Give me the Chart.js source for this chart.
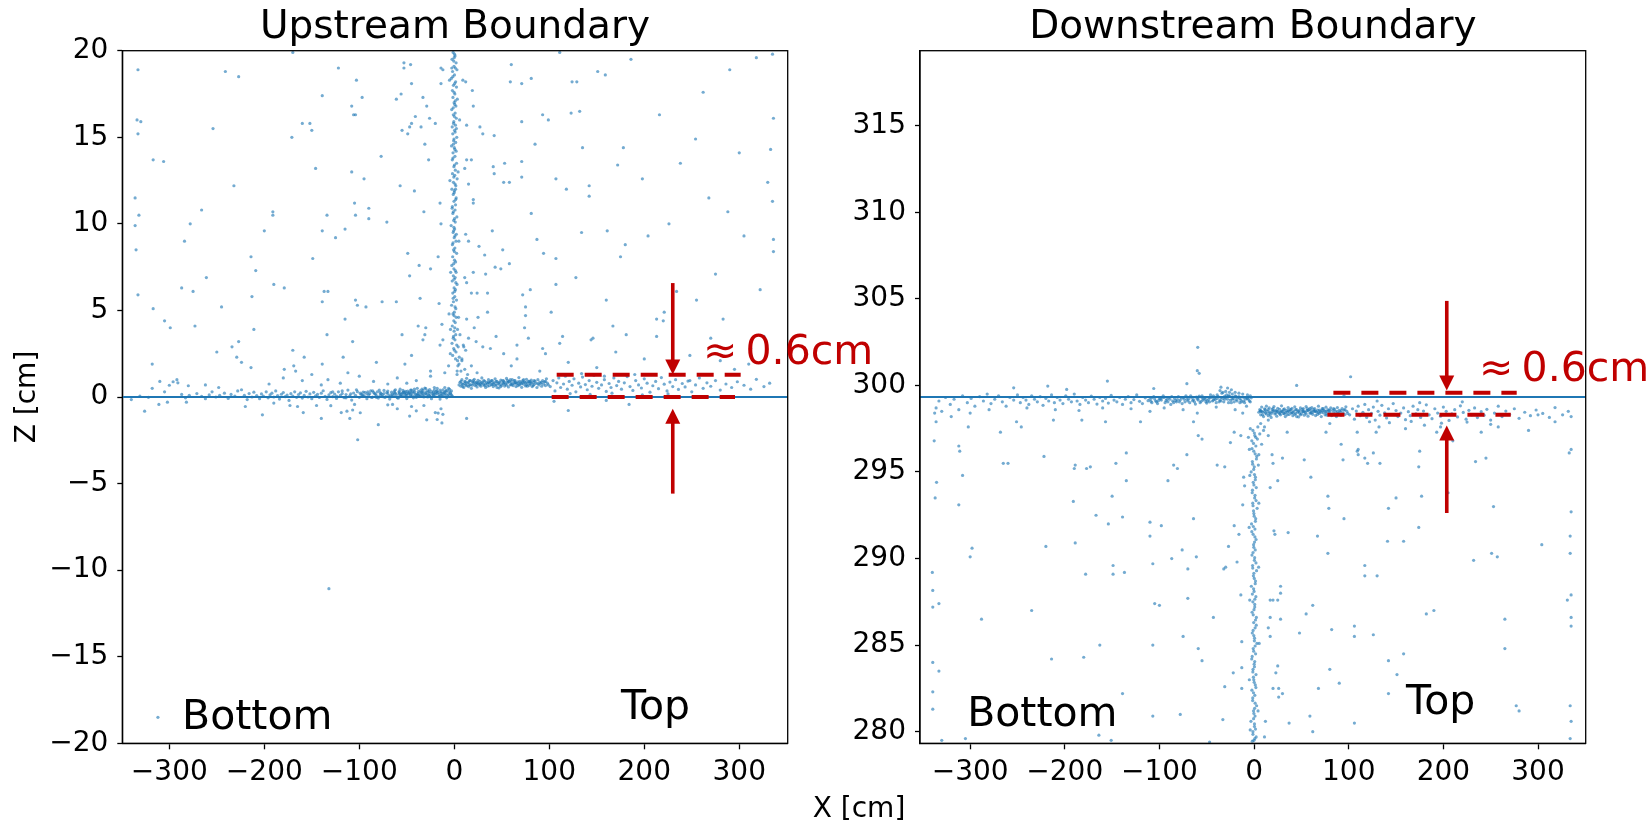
<!DOCTYPE html>
<html>
<head>
<meta charset="utf-8">
<script src="https://cdn.jsdelivr.net/npm/chart.js@4.4.0/dist/chart.umd.min.js"></script>
<style>
  body { margin: 0; background: #fff; width: 1652px; height: 823px; overflow: hidden; position: relative; }
  canvas { position: absolute; top: 0; }
  #upCanvas { left: 0; }
  #downCanvas { left: 830px; }
</style>
</head>
<body>
<canvas id="upCanvas" width="910" height="823"></canvas>
<canvas id="downCanvas" width="822" height="823"></canvas>
<script>
const RED = '#c00000';
const BLUE = '#1f77b4';

const xTicks = [-300, -200, -100, 0, 100, 200, 300];
const upZTicks = [-20, -15, -10, -5, 0, 5, 10, 15, 20];
const downZTicks = [280, 285, 290, 295, 300, 305, 310, 315];
const upBoundary = 0;
const downBoundary = 299.33;

// ---- Upstream boundary hits [x, z] ----
const upBandBottom = [
  [-340,-0.15],[-331,0.05],[-322,-0.02],[-318,0.5],[-310,0.9],[-305,0.3],[-300,0.68],[-296,0.88],[-292,1.0],[-291,0.82],
  [-287,0.15],[-283,-0.05],[-280,0.65],[-279,0.1],[-271,0.2],[-266,0.04],[-262,-0.1],[-258,0.12],[-255,0.3],[-251,0.0],
  [-247,0.1],[-242,0.22],[-238,-0.08],[-235,0.15],[-231,0.05],[-228,0.35],[-224,0.42],[-221,0.1],[-218,-0.15],[-216,0.2],
  [-213,0.0],[-211,0.28],[-208,0.08],[-205,-0.1],[-203,0.18],[-201,0.05],[-198,0.3],[-196,-0.05],[-194,0.12],[-192,0.22],
  [-190,0.0],[-188,0.35],[-186,0.08],[-184,-0.12],[-182,0.16],[-180,0.26],[-178,0.02],[-176,0.11],[-174,-0.2],[-172,0.19],
  [-170,0.05],[-168,0.3],[-166,-0.02],[-164,0.14],[-162,0.24],[-160,-0.06],[-158,0.09],[-156,0.33],[-154,0.0],[-152,0.18],
  [-150,-0.1],[-148,0.27],[-146,0.07],[-144,0.15],[-142,-0.03],[-140,0.22],[-138,0.36],[-136,0.04],[-134,-0.14],[-132,0.12],
  [-130,0.25],[-128,0.02],[-126,0.17],[-124,-0.08],[-122,0.3],[-120,0.09],[-118,0.2],[-116,-0.04],[-114,0.14],[-112,0.4],
  [-110,0.06],[-108,-0.18],[-106,0.23],[-104,0.1],[-102,0.31],[-100,-0.02],[-98,0.16],[-96,0.05],[-94,0.27],[-92,-0.1],
  [-90,0.12],[-88,0.35],[-86,0.0],[-84,0.2],[-82,0.08],[-80,-0.06],[-78,0.25],[-76,0.14],[-74,0.38],[-72,0.03],
  [-70,0.19],[-68,-0.12],[-66,0.28],[-64,0.1],[-62,0.22],[-60,-0.04],[-58,0.33],[-56,0.15],[-54,0.05],[-52,0.26],
  [-50,-0.09],[-48,0.18],[-46,0.4],[-44,0.07],[-42,0.24],[-40,-0.02],[-38,0.31],[-36,0.12],[-34,0.45],[-32,0.0],
  [-30,0.2],[-28,0.36],[-26,0.08],[-24,-0.1],[-22,0.28],[-20,0.15],[-18,0.5],[-16,0.03],[-14,0.22],[-12,0.42],
  [-10,0.1],[-8,-0.05],[-6,0.3],[-4,0.18],
  [-99,0.22],[-95,0.08],[-91,0.3],[-87,-0.03],[-83,0.17],[-79,0.4],[-75,0.02],[-71,0.26],[-67,0.11],[-63,0.36],
  [-59,-0.07],[-55,0.21],[-51,0.13],[-47,0.29],[-43,-0.05],[-39,0.17],[-35,0.26],[-31,0.52],[-27,0.1],[-23,0.19],
  [-19,0.33],[-15,-0.12],[-11,0.25],[-7,0.08],[-5,0.44],[-3,0.12],[-97,0.12],[-89,0.2],[-81,0.3],[-73,-0.03],
  [-65,0.17],[-57,0.08],[-49,0.34],[-41,0.14],[-33,0.22],[-25,0.02],[-17,0.27],[-9,0.36],[-13,0.06],[-21,0.4],
  [-29,0.15],[-37,0.04],[-45,0.22],[-53,0.3],[-61,0.13],[-69,0.05],[-77,0.2],[-85,0.27],
  [-58,0.18],[-54,0.25],[-50,0.07],[-46,0.15],[-42,0.33],[-38,0.2],[-34,0.1],[-30,0.28],[-26,0.43],[-22,0.06],
  [-18,0.21],[-14,0.3],[-10,0.55],[-6,0.14],[-4,0.25],[-2,0.05],[-8,0.38],[-12,0.18],[-16,0.12],[-20,0.24],
  [-24,0.32],[-28,0.0],[-32,0.12],[-36,0.35],[-40,0.08],[-44,0.3],[-48,0.24],[-52,0.16],[-56,0.04],
  [-128,0.3],[-124,0.05],[-118,0.35],[-114,-0.05],[-109,0.18],[-103,0.42],[-96,0.28],[-92,0.18],[-86,0.36],[-82,-0.02],
  [-78,0.1],[-74,0.2],[-70,0.34],[-66,0.02],[-62,0.42],[-58,0.26],[-54,0.38],[-50,0.2],[-46,0.06],[-42,0.45],
  [-38,0.1],[-34,0.28],[-30,0.48],[-26,0.22],[-22,0.14],[-18,0.35],[-14,0.1],[-10,0.28],[-6,0.5],[-3,0.35],
  [-9,0.2],[-15,0.4],[-21,0.55],[-27,0.3],[-33,0.38],[-39,0.5],[-45,0.4],[-51,0.32],[-57,0.45],[-63,0.25],
  [-262,0.7],[-248,0.55],[-195,0.75],[-160,0.95],[-120,0.8],[-85,0.9],[-60,1.1],[-40,0.95],[-25,1.2],[-10,1.4],
  [-6,1.8],[-180,1.1],[-140,0.7],[-100,1.2],[-70,0.75],[-50,0.8]
];
const upBandTop = [
  [6,0.85],[7,0.62],[8,1.0],[9,0.74],[10,0.55],[11,0.9],[12,0.7],[13,1.08],[14,0.8],[15,0.6],
  [16,0.95],[17,0.72],[18,0.5],[19,0.88],[20,0.78],[21,1.02],[22,0.66],[23,0.84],[24,0.58],[25,0.96],
  [26,0.74],[27,0.9],[28,0.62],[29,1.1],[30,0.8],[31,0.7],[32,0.92],[33,0.55],[34,0.85],[35,0.76],
  [36,1.0],[37,0.65],[38,0.88],[39,0.72],[40,0.95],[41,0.6],[42,0.82],[43,1.05],[44,0.7],[45,0.9],
  [46,0.77],[47,0.52],[48,0.86],[49,0.98],[50,0.68],[51,0.8],[52,0.93],[53,0.63],[54,0.75],[55,1.07],
  [56,0.83],[57,0.58],[58,0.9],[59,0.72],[60,0.86],[61,1.0],[62,0.66],[63,0.8],[64,0.94],[65,0.6],
  [66,0.77],[67,0.88],[68,1.12],[69,0.7],[70,0.82],[71,0.56],[72,0.95],[73,0.74],[74,0.86],[75,0.64],
  [76,1.02],[77,0.8],[78,0.9],[79,0.68],[80,0.76],[81,0.98],[82,0.6],[83,0.85],[84,0.72],[85,0.92],
  [86,0.8],[87,0.55],[88,1.0],[89,0.7],[90,0.86],[91,0.78],[92,0.62],[93,0.95],[94,0.74],[95,0.88],
  [96,0.66],[97,1.05],[98,0.8],[99,0.7],
  [8,0.75],[12,0.88],[16,0.68],[20,0.95],[24,0.82],[28,0.76],[32,0.66],[36,0.84],[40,0.72],[44,0.9],
  [48,0.7],[52,0.78],[56,0.96],[60,0.7],[64,0.82],[68,0.74],[72,0.86],[76,0.7],[80,0.88],[84,0.95],
  [88,0.78],[92,0.85],[96,0.9],
  [5,0.7],[7,0.9],[9,0.6],[11,0.78],[13,0.65],[15,0.85],[17,0.95],[19,0.68],[21,0.85],[23,0.72],
  [25,0.8],[27,0.7],[29,0.85],[31,0.95],[33,0.75],[35,0.62],[37,0.82],[39,0.95],[41,0.8],[43,0.68],
  [45,0.55],[47,0.82],[49,0.6],[51,0.95],[53,0.85],[55,0.68],[57,0.88],[59,1.0],[61,0.75],[63,0.95],
  [65,0.82],[67,0.65],[69,0.9],[71,0.78],[73,1.0],[75,0.85],[77,0.62],[79,0.9],[81,0.8],[83,0.66],
  [101,0.6],[104,0.95],[106,0.35],[108,0.82],[110,1.1],[112,0.55],[115,0.75],[117,1.2],[119,0.45],[121,0.9],
  [124,0.68],[126,1.05],[128,0.3],[131,0.8],[133,0.58],[135,1.15],[138,0.72],[140,0.42],[142,0.95],[145,0.62],
  [147,1.25],[150,0.85],[152,0.5],[155,0.7],[158,1.0],[160,0.32],[163,0.78],[165,0.55],[168,1.1],[171,0.66],
  [173,0.9],[176,0.45],[179,0.82],[182,1.18],[185,0.6],[188,0.38],[191,0.95],[194,0.7],[197,0.52],[200,1.05],
  [203,0.8],[206,0.28],[209,0.65],[212,0.9],[215,0.48],[218,1.12],[221,0.74],[224,0.35],[227,0.86],[230,0.6],
  [233,1.0],[236,0.44],[240,0.78],[243,0.58],[246,0.92],[250,0.3],[254,0.7],[258,1.1],[262,0.5],[266,0.82],
  [270,0.62],[275,0.95],[280,0.4],[286,0.75],[292,0.55],[298,0.88],[305,0.68],[312,0.45],[318,1.02],[326,0.6],
  [332,0.8],[122,0.2],[143,0.15],[166,0.22],[198,0.12],[225,0.18],[248,0.95],[190,1.3],[134,1.35],[158,1.2],
  [3,1.5],[5,1.9],[8,2.2],[11,1.6],[14,1.3],[18,1.8],[24,1.4]
];
const upColumn = [
  [-1.2,19.9],[0.8,19.7],[-2.4,19.5],[1.9,19.3],[-0.3,19.1],[2.8,18.9],[-1.8,18.8],[0.2,18.6],[-3.1,18.4],[1.4,18.2],
  [-0.9,18.0],[2.3,17.9],[-2.0,17.7],[0.6,17.5],[-1.4,17.3],[3.2,17.2],[-0.2,17.0],[1.7,16.8],[-2.7,16.6],[0.9,16.4],
  [-1.0,16.3],[2.1,16.1],[-0.5,15.9],[1.2,15.7],[-2.2,15.6],[0.3,15.4],[-1.6,15.2],[2.6,15.0],[-0.7,14.8],[1.5,14.7],
  [-2.9,14.5],[0.0,14.4],[1.9,14.2],[-1.3,14.1],[0.7,13.9],[-2.1,13.7],[2.4,13.5],[-0.4,13.3],[1.1,13.1],[-1.9,12.9],
  [0.5,12.8],[3.0,12.6],[-0.9,12.4],[1.6,12.2],[-2.5,12.0],[0.1,11.9],[-1.1,11.7],[2.0,11.5],[-0.3,11.3],[1.3,11.1],
  [-2.3,10.9],[0.8,10.8],[-1.5,10.6],[2.7,10.4],[-0.6,10.2],[1.0,10.1],[-3.3,9.9],[0.4,9.7],[-1.2,9.5],[2.2,9.4],
  [-0.1,9.2],[1.8,9.0],[-2.0,8.8],[0.6,8.6],[-0.8,8.5],[2.5,8.3],[-1.7,8.1],[0.2,7.9],[1.4,7.8],[-2.6,7.6],
  [-0.4,7.4],[1.9,7.2],[-1.0,7.0],[0.9,6.9],[-2.2,6.7],[2.9,6.5],[-0.2,6.3],[1.2,6.2],[-1.6,6.0],[0.5,5.8],
  [2.3,5.6],[-0.9,5.5],[-2.8,5.3],[1.6,5.1],[0.0,4.9],[-1.4,4.8],[2.0,4.6],[-0.5,4.4],[1.0,4.3],[-2.1,4.1],
  [3.4,3.9],[-0.2,3.8],[1.5,3.6],[-1.1,3.4],[0.7,3.3],[-2.4,3.1],[2.6,3.0],[4.1,2.9],[-0.6,2.8],[1.8,2.6],
  [0.3,19.8],[-0.6,19.4],[1.1,19.0],[-1.5,18.5],[0.4,18.1],[-0.2,17.6],[1.0,17.1],[-1.1,16.7],[0.1,16.2],[-0.8,15.8],
  [0.9,15.3],[-0.3,14.9],[0.6,14.3],[-1.4,13.8],[0.2,13.4],[-0.5,12.7],[0.8,12.3],[-0.1,11.8],[1.5,11.4],[-1.0,10.7],
  [0.3,10.3],[-0.4,9.8],[0.7,9.3],[-1.3,8.9],[0.1,8.4],[-0.6,7.7],[1.1,7.3],[-0.2,6.8],[0.4,6.1],[-1.2,5.7],
  [0.8,5.2],[-0.3,4.7],[0.5,4.0],[-0.8,3.5],[0.2,2.7],[-1.7,2.4],[1.3,2.2],[3.5,2.1],[-0.1,19.6],[0.5,16.9],
  [-0.9,14.6],[1.3,12.0],[-0.7,9.6],[1.6,6.6],[-2.6,19.0],[2.2,15.5],[-2.0,11.0],
  [4.5,4.6],[6,3.6],[5.2,2.3],[8,2.1],[3.8,1.8],[7,1.5],[2.9,1.3],[9.5,3.0],[-4.2,2.5],[-5.5,4.8],
  [-3.8,7.2],[4.8,9.0],[-4.6,12.5],[5.6,16.0],[-5,18.3],[4.0,13.0],[-4,3.9]
];
const upScatter = [
  [-333,18.9],[-334,16.0],[-330,15.9],[-333,15.2],[-336,11.5],[-336,9.9],[-332,10.5],[-335,8.5],[-333,5.9],[-317,13.7],
  [-306,13.6],[-317,5.1],[-305,4.4],[-299,4.0],[-284,9.0],[-278,10.0],[-275,6.1],[-273,4.1],[-287,6.3],[-266,10.8],
  [-261,6.9],[-254,15.5],[-241,18.8],[-227,18.5],[-232,12.2],[-245,5.2],[-214,8.1],[-209,7.3],[-213,5.8],[-211,3.9],
  [-214,1.7],[-234,2.9],[-227,3.2],[-229,2.3],[-224,2.0],[-200,9.6],[-191,10.7],[-191,10.5],[-190,6.5],[-179,6.3],
  [-171,15.0],[-160,15.8],[-152,15.8],[-150,15.4],[-146,13.2],[-149,8.0],[-139,9.6],[-137,6.1],[-133,6.1],[-139,5.5],
  [-134,3.6],[-139,1.9],[-133,1.0],[-122,19.0],[-139,17.4],[-108,16.8],[-106,16.3],[-104,16.3],[-103,18.3],[-97,17.3],
  [-108,13.0],[-95,12.6],[-105,11.2],[-104,10.5],[-90,10.9],[-90,10.3],[-115,9.7],[-125,9.2],[-134,10.5],[-115,4.5],
  [-104,5.6],[-102,5.3],[-93,5.2],[-107,3.2],[-117,2.3],[-112,1.4],[-170,2.7],[-158,2.3],[-179,1.6],[-169,1.8],
  [-167,1.5],[-150,1.3],[-77,13.9],[-71,10.1],[-82,2.0],[-76,5.5],[-61,5.5],[-61,17.2],[-56,17.5],[-53,19.0],
  [-53,19.3],[-46,19.2],[-45,18.1],[-55,15.4],[-49,15.2],[-47,15.6],[-45,15.8],[-41,16.2],[-35,15.6],[-29,16.8],
  [-33,17.3],[-26,16.1],[-27,13.7],[-20,15.8],[-31,14.6],[-57,12.2],[-42,11.9],[-32,10.7],[-49,8.3],[-47,7.0],
  [-37,7.6],[-25,7.4],[-17,8.1],[-36,5.7],[-30,4.0],[-38,4.1],[-33,3.3],[-16,5.4],[-13,4.2],[-31,3.6],
  [-25,1.5],[-52,1.9],[-55,3.6],[-45,2.4],[-14,10.0],[-15,11.2],[-14,18.1],[-14,19.0],[-12,18.9],[-12,3.3],
  [-15,3.0],[-170,19.9],[-318,1.9],[-250,2.6],
  [10,2.9],[12,2.7],[9,18.3],[12,18.2],[19,17.7],[13,15.7],[20,16.8],[20,11.4],[20,11.2],[15,12.3],
  [11,13.2],[18,13.7],[13,13.7],[12,9.4],[15,9.0],[11,6.9],[13,6.6],[20,7.2],[18,6.0],[24,6.0],
  [13,4.5],[21,4.0],[15,3.4],[23,3.2],[30,2.9],[38,2.8],[25,4.6],[35,4.9],[35,6.0],[26,8.7],
  [32,8.2],[33,7.1],[43,7.5],[49,7.4],[51,8.5],[27,15.6],[30,15.2],[42,15.1],[41,13.3],[42,12.9],
  [52,12.4],[58,12.4],[40,9.6],[44,3.5],[52,2.5],[58,7.7],[66,3.0],[53,13.5],[60,19.2],[59,18.2],
  [71,18.1],[81,18.4],[71,13.6],[71,12.7],[71,15.9],[85,14.6],[93,16.3],[99,16.0],[72,5.9],[75,5.2],
  [75,4.7],[74,4.0],[78,3.4],[66,2.2],[81,10.6],[87,9.1],[94,8.3],[80,6.2],[93,2.8],[96,2.5],
  [107,12.6],[111,19.9],[114,3.5],[111,3.1],[102,4.9],[107,6.5],[107,8.0],[118,12.0],[123,16.4],[129,18.2],
  [124,18.2],[132,16.5],[135,14.4],[134,9.5],[128,6.9],[144,3.3],[146,3.4],[142,12.2],[142,11.6],[160,5.6],
  [151,18.8],[159,18.6],[161,9.6],[167,4.1],[170,2.6],[172,13.4],[175,8.1],[178,14.4],[180,8.8],[181,3.6],
  [186,19.5],[198,12.6],[204,9.3],[216,16.3],[213,4.5],[213,3.5],[221,4.9],[220,4.4],[226,10.0],[234,6.1],
  [238,13.5],[254,14.9],[262,17.6],[268,11.5],[275,7.1],[283,4.5],[290,18.9],[300,14.1],[305,9.3],[312,2.8],
  [318,19.6],[322,6.2],[330,12.4],[335,19.8],[336,16.1],[335,11.3],[336,9.1],[336,8.4],[333,14.3],[270,3.4],
  [280,2.1],[295,1.6],[310,1.9],[255,5.6],[248,2.4],[288,10.7],[326,3.5],[60,1.8],[90,1.5],[120,2.0],
  [150,1.7],[200,2.2],[230,1.6]
];
const upBelow = [
  [-326,-0.82],[-311,-0.43],[-302,-0.3],[-282,-0.3],[-220,-0.55],[-202,-1.03],[-173,-0.49],[-159,-0.9],[-145,-0.49],[-140,-1.24],
  [-113,-0.82],[-110,-1.24],[-99,-0.91],[-105,-0.43],[-65,-0.43],[-60,-0.68],[-32,-0.49],[-29,-1.32],[-17,-0.93],[-14,-0.68],
  [-12,-1.0],[13,-1.24],[62,-0.49],[120,-0.78],[184,-0.43],[-190,-0.35],[-165,-0.55],[-130,-0.5],[-119,-0.9],[-107,-0.75],
  [-70,-0.45],[-45,-0.55],[-40,-0.8],[-20,-0.9],[-18,-1.3],[-13,-1.5],[-80,-1.6],[-47,-1.1],[105,-0.25],[160,-0.2],
  [-101.7,-2.47],[-132,-11.07],[-312,-18.5]
];

// ---- Downstream boundary hits [x, z] ----
const downBandBottom = [
  [-336,298.7],[-333,299.1],[-330,298.5],[-326,299.3],[-321,298.9],[-317,299.2],[-312,298.6],[-308,299.4],[-303,299.0],[-299,299.25],
  [-295,298.8],[-290,299.35],[-286,299.1],[-282,299.5],[-278,298.95],[-274,299.2],[-270,299.4],[-266,299.05],[-262,298.8],[-258,299.3],
  [-254,299.15],[-250,299.45],[-247,299.0],[-244,299.3],[-241,299.15],[-238,298.9],[-235,299.4],[-232,299.2],[-229,299.05],[-226,299.35],
  [-223,298.85],[-220,299.25],[-217,299.1],[-214,299.45],[-211,299.0],[-208,299.3],[-205,299.15],[-202,298.95],[-199,299.4],[-196,299.2],
  [-193,299.05],[-190,299.5],[-187,299.1],[-184,298.9],[-181,299.3],[-178,299.15],[-175,299.0],[-172,299.38],[-169,299.2],[-166,298.92],
  [-163,299.3],[-160,299.1],[-157,299.25],[-154,298.98],[-151,299.42],[-148,299.15],[-145,299.05],[-142,299.3],[-139,298.9],[-136,299.2],
  [-133,299.35],[-130,299.0],[-127,299.18],[-124,299.45],[-121,299.08],[-118,298.95],[-115,299.28],[-112,299.12],
  [-110,299.2],[-108,299.0],[-106,299.35],[-104,299.1],[-102,298.95],[-100,299.25],[-98,299.15],[-96,299.4],[-94,299.0],[-92,299.2],
  [-90,299.3],[-88,298.9],[-86,299.1],[-84,299.25],[-82,299.05],[-80,299.35],[-78,299.15],[-76,298.95],[-74,299.2],[-72,299.4],
  [-70,299.1],[-68,299.0],[-66,299.3],[-64,299.18],[-62,298.92],[-60,299.22],[-58,299.38],[-56,299.08],[-54,299.15],[-52,299.3],
  [-50,298.98],[-48,299.2],[-46,299.45],[-44,299.1],[-42,299.25],[-40,299.0],[-38,299.35],[-36,299.15],[-34,299.55],[-32,299.05],
  [-30,299.3],[-28,299.2],[-26,299.6],[-24,299.0],[-22,299.25],[-20,299.4],[-18,299.1],[-16,299.35],[-14,299.15],[-12,299.5],
  [-10,299.0],[-8,299.3],[-6,299.2],[-4,299.4],
  [-109,299.08],[-105,299.22],[-101,299.12],[-97,299.3],[-93,299.12],[-89,299.2],[-85,299.0],[-81,299.18],[-77,299.28],[-73,299.05],
  [-69,299.22],[-65,299.12],[-61,299.32],[-57,299.0],[-53,299.22],[-49,299.1],[-45,299.3],[-41,299.18],[-37,299.05],[-33,299.25],
  [-29,299.45],[-25,299.15],[-21,299.05],[-17,299.28],[-13,299.05],[-9,299.2],[-5,299.1],[-3,299.28],
  [-59,299.15],[-55,299.28],[-51,299.18],[-47,299.05],[-43,299.4],[-39,299.25],[-35,299.1],[-31,299.38],[-27,299.0],[-23,299.5],
  [-19,299.18],[-15,299.0],[-11,299.3],[-7,299.45],[-36,299.7],[-30,299.65],[-24,299.75],[-20,299.6],[-28,299.85],
  [-108,299.28],[-103,299.05],[-99,299.22],[-95,299.3],[-91,299.05],[-87,299.35],[-83,299.12],[-79,299.05],[-75,299.3],[-71,299.2],
  [-67,299.4],[-63,299.05],[-59,299.3],[-55,299.4],[-51,299.05],[-47,299.3],[-43,299.15],[-39,299.45],[-35,299.3],[-31,299.2],
  [-27,299.4],[-23,299.2],[-19,299.35],[-15,299.25],[-11,299.1],[-7,299.25],[-4,299.05],[-33,299.6],[-26,299.4],[-16,299.55],
  [-320,298.2],[-300,298.4],[-280,298.6],[-240,298.7],[-210,298.6],[-185,298.55],[-160,298.7],[-130,298.65],[-110,298.5],[-95,298.7],
  [-75,298.6],[-60,298.4],[-40,298.75],[-20,298.6],[-12,298.4],[-8,298.8]
];
const downBandTop = [
  [6,298.6],[7,298.3],[8,298.75],[9,298.45],[10,298.2],[11,298.65],[12,298.4],[13,298.8],[14,298.5],[15,298.25],
  [16,298.7],[17,298.45],[18,298.15],[19,298.6],[20,298.5],[21,298.78],[22,298.35],[23,298.55],[24,298.22],[25,298.68],
  [26,298.42],[27,298.62],[28,298.3],[29,298.82],[30,298.5],[31,298.38],[32,298.64],[33,298.2],[34,298.56],[35,298.45],
  [36,298.72],[37,298.32],[38,298.6],[39,298.4],[40,298.68],[41,298.25],[42,298.52],[43,298.76],[44,298.38],[45,298.6],
  [46,298.46],[47,298.18],[48,298.56],[49,298.7],[50,298.36],[51,298.5],[52,298.66],[53,298.28],[54,298.44],[55,298.78],
  [56,298.54],[57,298.22],[58,298.6],[59,298.4],[60,298.56],[61,298.72],[62,298.33],[63,298.5],[64,298.66],[65,298.26],
  [66,298.46],[67,298.58],[68,298.8],[69,298.38],[70,298.52],[71,298.2],[72,298.66],[73,298.42],[74,298.56],[75,298.3],
  [76,298.74],[77,298.5],[78,298.6],[79,298.35],[80,298.45],[81,298.7],[82,298.26],[83,298.55],[84,298.4],[85,298.62],
  [86,298.5],[87,298.2],[88,298.72],[89,298.38],[90,298.56],[91,298.46],[92,298.28],[93,298.66],[94,298.42],[95,298.58],
  [96,298.32],[97,298.76],[98,298.5],[99,298.38],
  [8,298.5],[12,298.6],[16,298.4],[20,298.68],[24,298.52],[28,298.46],[32,298.36],[36,298.54],[40,298.42],[44,298.6],
  [48,298.4],[52,298.48],[56,298.66],[60,298.4],[64,298.52],[68,298.44],[72,298.56],[76,298.4],[80,298.58],[84,298.66],
  [88,298.48],[92,298.55],[96,298.6],
  [5,298.45],[7,298.55],[9,298.3],[11,298.5],[13,298.35],[15,298.6],[17,298.3],[19,298.4],[21,298.55],[23,298.4],
  [25,298.5],[27,298.36],[29,298.5],[31,298.6],[33,298.44],[35,298.3],[37,298.5],[39,298.6],[41,298.44],[43,298.32],
  [45,298.2],[47,298.5],[49,298.3],[51,298.62],[53,298.5],[55,298.36],[57,298.55],[59,298.68],[61,298.44],[63,298.6],
  [65,298.5],[67,298.32],[69,298.58],[71,298.46],[73,298.66],[75,298.5],[77,298.28],[79,298.55],
  [101,298.3],[104,298.65],[106,298.05],[108,298.52],[110,298.8],[112,298.25],[115,298.45],[117,298.9],[119,298.15],[121,298.6],
  [124,298.38],[126,298.75],[128,298.0],[131,298.5],[133,298.28],[135,298.85],[138,298.42],[140,298.12],[142,298.65],[145,298.32],
  [147,298.95],[150,298.55],[152,298.2],[155,298.4],[158,298.7],[160,298.02],[163,298.48],[165,298.25],[168,298.8],[171,298.36],
  [173,298.6],[176,298.15],[179,298.52],[182,298.88],[185,298.3],[188,298.08],[191,298.65],[194,298.4],[197,298.22],[200,298.75],
  [203,298.5],[206,297.98],[209,298.35],[212,298.6],[215,298.18],[218,298.82],[221,298.44],[224,298.05],[227,298.56],[230,298.3],
  [233,298.7],[236,298.14],[240,298.48],[243,298.28],[246,298.62],[250,298.0],[254,298.4],[258,298.8],[262,298.2],[266,298.52],
  [270,298.32],[275,298.65],[280,298.1],[286,298.45],[292,298.25],[298,298.58],[305,298.38],[312,298.15],[318,298.72],[326,298.3],
  [332,298.5],[335,298.2],[122,297.9],[143,297.85],[166,297.92],[198,297.82],[225,297.88],[180,297.7],[250,297.75]
];
const downColumn = [
  [-1.2,297.4],[0.8,297.1],[-2.4,296.8],[1.9,296.5],[-0.3,296.2],[2.8,295.9],[-1.8,295.6],[0.2,295.3],[-3.1,295.0],[1.4,294.7],
  [-0.9,294.4],[2.3,294.1],[-2.0,293.8],[0.6,293.5],[-1.4,293.2],[3.2,292.9],[-0.2,292.6],[1.7,292.3],[-2.7,292.0],[0.9,291.7],
  [-1.0,291.4],[2.1,291.1],[-0.5,290.8],[1.2,290.5],[-2.2,290.2],[0.3,289.9],[-1.6,289.6],[2.6,289.3],[-0.7,289.0],[1.5,288.7],
  [-2.9,288.4],[0.0,288.1],[1.9,287.8],[-1.3,287.5],[0.7,287.2],[-2.1,286.9],[2.4,286.6],[-0.4,286.3],[1.1,286.0],[-1.9,285.7],
  [0.5,285.4],[3.0,285.1],[-0.9,284.8],[1.6,284.5],[-2.5,284.2],[0.1,283.9],[-1.1,283.6],[2.0,283.3],[-0.3,283.0],[1.3,282.7],
  [-2.3,282.4],[0.8,282.1],[-1.5,281.8],[2.7,281.5],[-0.6,281.2],[1.0,280.9],[-3.3,280.6],[0.4,280.3],[-1.2,280.0],[2.2,279.7],
  [-0.1,279.5],
  [0.3,297.25],[-0.6,296.65],[1.1,296.05],[-1.5,295.45],[0.4,294.85],[-0.2,294.25],[1.0,293.65],[-1.1,293.05],[0.1,292.45],[-0.8,291.85],
  [0.9,291.25],[-0.3,290.65],[0.6,290.05],[-1.4,289.45],[0.2,288.85],[-0.5,288.25],[0.8,287.65],[-0.1,287.05],[1.5,286.45],[-1.0,285.85],
  [0.3,285.25],[-0.4,284.65],[0.7,284.05],[-1.3,283.45],[0.1,282.85],[-0.6,282.25],[1.1,281.65],[-0.2,281.05],[0.4,280.45],[-1.2,279.85],
  [0.8,279.6],
  [1.8,297.0],[-2.2,296.35],[2.5,295.75],[-0.4,295.15],[1.3,294.55],[-1.7,293.95],[2.1,293.35],[-0.6,292.75],[1.4,292.15],[-2.4,291.55],
  [0.5,290.95],[-1.1,290.35],[2.0,289.75],[-0.2,289.15],[1.2,288.55],[-1.8,287.95],[0.7,287.35],[-0.9,286.75],[2.3,286.15],[-0.3,285.55],
  [1.1,284.95],[-2.0,284.35],[0.4,283.75],[-0.7,283.15],[1.9,282.55],[-1.4,281.95],[0.6,281.35],[-0.5,280.75],[1.5,280.15],[-1.9,279.45],
  [4,297.6],[6,297.2],[3.5,296.9],[8,296.6],[-4,297.5],[5,296.0],[-5,296.3],[7,297.8],[10,297.4],[-6,297.0],
  [4.5,295.4],[-4.5,294.8],[5,293.2],[-5.2,291.8],[4.8,289.5],[-4.6,287.6],[5.4,285.1],[-5,283.0],[4.2,281.2],[-4.1,280.1]
];
const downScatter = [
  [-337.5,298.4],[-337,293.5],[-335.5,294.4],[-340,289.2],[-339.5,288.16],[-339.5,287.2],[-333,287.4],[-339.5,284.0],[-339.5,282.3],[-339.5,281.3],
  [-330,279.5],[-305,279.6],[-312,296.5],[-311,296.2],[-302,297.6],[-308,294.8],[-312,293.1],[-298,290.6],[-300,290.1],[-288,286.5],
  [-251,297.9],[-246,297.6],[-268,297.3],[-265,295.5],[-260,295.5],[-235,287.0],[-222,295.9],[-220,290.7],[-214,284.2],[-212,298.0],
  [-190,295.2],[-189,295.4],[-191,293.3],[-189,290.9],[-182,298.0],[-177,295.2],[-173,295.3],[-178,289.1],[-180,284.3],[-167,292.5],
  [-163,285.0],[-164,279.8],[-157,297.9],[-146,295.5],[-150,293.6],[-149,289.6],[-149,289.1],[-137,289.2],[-139,292.4],[-139,282.2],
  [-151,279.5],[-154,292.0],[-135,296.1],[-135,294.5],[-120,297.9],[-110,292.1],[-110,291.3],[-107,289.7],[-105,287.4],[-100,287.3],
  [-107,285.0],[-107,280.9],[-98,291.9],[-91,294.5],[-87,290.0],[-85,295.4],[-81,295.2],[-76,290.5],[-70,289.4],[-70,287.7],
  [-71,296.0],[-75,285.5],[-78,281.0],[-64,292.3],[-61,290.1],[-59,284.8],[-55,284.1],[-59,297.1],[-55,296.9],[-64,297.9],
  [-43,286.6],[-39,295.4],[-31,295.3],[-32,289.4],[-30,289.5],[-27,290.7],[-31,282.6],[-33,280.7],[-22,283.4],[-47,279.4],
  [-25,296.7],[-21,297.3],[-14,297.1],[-21,291.9],[-18,289.8],[-16,291.4],[-14,287.9],[-13,285.2],[-13,283.7],[-13,282.5],
  [-12,293.1],[-10,294.2],[-11,294.7],[-338,296.8],[-336,297.9],[-333,283.5],
  [6.7,298.5],[15,298.0],[11,297.6],[15,297.1],[19,296.0],[20,295.5],[17,294.1],[25,294.5],[21,291.6],[22,291.4],
  [28,288.4],[25,287.6],[17,287.6],[20,287.6],[28,288.0],[17,286.6],[15,286.0],[28,286.5],[17,285.5],[25,283.8],
  [23,283.4],[26,282.5],[20,282.5],[26,282.0],[30,282.2],[12,280.6],[11,279.7],[30,295.8],[35,297.3],[36,291.5],
  [37,280.5],[48,285.7],[53,295.7],[55,286.8],[60,294.7],[62,287.3],[59,280.9],[62,280.0],[68,282.5],[67,291.3],
  [78,293.6],[79,292.9],[78,290.3],[76,297.3],[80,297.8],[80,283.6],[82,285.9],[90,282.8],[95,292.3],[94,295.7],
  [92,296.6],[106,286.1],[106,285.5],[109,297.3],[109,296.2],[110,296.3],[106,280.5],[117,289.6],[117,289.0],[110,296.0],
  [117,295.8],[126,285.6],[130,289.0],[132,297.6],[133,295.5],[120,295.5],[126,296.1],[129,297.3],[141,291.0],[142,292.9],
  [142,284.1],[142,282.2],[150,293.5],[151,283.3],[158,291.0],[158,284.5],[177,293.6],[174,291.8],[182,286.8],[175,296.2],
  [174,295.3],[193,297.3],[190,287.0],[197,297.6],[205,293.8],[234,295.6],[232,289.9],[240,297.3],[245,295.8],[251,290.3],
  [253,293.0],[258,297.6],[257,290.1],[265,286.5],[265,284.8],[280,281.2],[304,290.8],[300,298.3],[277,281.5],[335,296.3],
  [333,296.1],[335,292.7],[334,291.3],[334,290.3],[335,287.9],[331,287.6],[335,286.6],[335,286.1],[334,281.5],[335,280.6],
  [334,279.6],[318,297.9],[290,297.4],[210,296.8],[160,297.5]
];
const downAbove = [
  [-59.5,302.2],[-60,300.85],[-58,300.7],[-155,300.25],[-254,299.86],[-218,299.96],[-198,299.77],[-106,299.82],[-71,300.1],[102,300.5],
  [45,300.0],[95,299.4],[-35,299.9],[130,299.1],[175,299.0],[220,299.05]
];

// ---- annotations: arrows [x, fromZ, toZ], dashed gap lines [[x, z], [x, z]] ----
const upGapTop = [[107.8, 1.28], [301.5, 1.28]];
const upGapBottom = [[102.5, 0.0], [295.5, 0.0]];
const upArrows = [[230, 6.58, 1.3], [230, -5.58, -0.68]];
const downGapTop = [[83.8, 299.57], [277.5, 299.57]];
const downGapBottom = [[77.5, 298.31], [271.2, 298.31]];
const downArrows = [[203.6, 304.88, 299.7], [203.6, 292.63, 297.68]];

const upLabels = [['Bottom', -286.6, -19.19, '#000'], ['Top', 175.4, -18.58, '#000'], ['\u2248\u20090.6cm', 261.8, 1.92, RED]];
const downLabels = [['Bottom', -303.2, 280.35, '#000'], ['Top', 160.6, 281.0, '#000'], ['\u2248\u20090.6cm', 237.7, 300.25, RED]];

Chart.defaults.font.family = '"DejaVu Sans", sans-serif';
Chart.defaults.color = '#000';

const toPoints = (pairs) => pairs.map(([x, y]) => ({ x, y }));
const minusLabel = (v) => (v < 0 ? '\u2212' + Math.abs(v) : String(v));

const annotations = {
  id: 'annotations',
  afterDatasetsDraw(chart, args, opts) {
    const { ctx, chartArea: area, scales: { x, y } } = chart;
    ctx.save();
    ctx.strokeStyle = '#000';
    ctx.lineWidth = 1.3;
    ctx.strokeRect(area.left, area.top, area.right - area.left, area.bottom - area.top);

    ctx.strokeStyle = RED;
    ctx.fillStyle = RED;
    for (const [ax, from, to] of opts.arrows) {
      const px = x.getPixelForValue(ax);
      const y0 = y.getPixelForValue(from);
      const y1 = y.getPixelForValue(to);
      const dir = Math.sign(y1 - y0);
      ctx.lineWidth = 3.6;
      ctx.beginPath();
      ctx.moveTo(px, y0);
      ctx.lineTo(px, y1 - dir * 13);
      ctx.stroke();
      ctx.beginPath();
      ctx.moveTo(px, y1);
      ctx.lineTo(px - 7.5, y1 - dir * 15);
      ctx.lineTo(px + 7.5, y1 - dir * 15);
      ctx.closePath();
      ctx.fill();
    }

    ctx.font = '41px "DejaVu Sans"';
    ctx.textAlign = 'left';
    ctx.textBaseline = 'alphabetic';
    for (const [text, tx, ty, color] of opts.labels) {
      ctx.fillStyle = color;
      ctx.fillText(text, x.getPixelForValue(tx), y.getPixelForValue(ty));
    }

    if (opts.xTitle) {
      ctx.fillStyle = '#000';
      ctx.font = '28px "DejaVu Sans"';
      ctx.textAlign = 'center';
      ctx.fillText(opts.xTitle.text, opts.xTitle.x, opts.xTitle.y);
    }
    ctx.restore();
  }
};

function makePanel(canvasId, p) {
  const ctx = document.getElementById(canvasId).getContext('2d');
  const scatter = [].concat(...p.groups);
  return new Chart(ctx, {
    type: 'scatter',
    data: {
      datasets: [{
        label: 'hits',
        data: toPoints(scatter),
        pointRadius: 1.6,
        pointHoverRadius: 0,
        pointBorderWidth: 0,
        pointBackgroundColor: 'rgba(31, 119, 180, 0.62)',
        order: 3
      }, {
        label: 'boundary',
        data: [{ x: p.xMin, y: p.boundary }, { x: p.xMax, y: p.boundary }],
        showLine: true,
        borderColor: BLUE,
        borderWidth: 2,
        pointRadius: 0,
        order: 2
      }, {
        label: 'gap top',
        data: toPoints(p.gapTop),
        showLine: true,
        borderColor: RED,
        borderWidth: 4,
        borderDash: [17, 11],
        pointRadius: 0,
        order: 1
      }, {
        label: 'gap bottom',
        data: toPoints(p.gapBottom),
        showLine: true,
        borderColor: RED,
        borderWidth: 4,
        borderDash: [17, 11],
        pointRadius: 0,
        order: 0
      }]
    },
    options: {
      responsive: false,
      animation: false,
      events: [],
      layout: { padding: { left: 0, top: 0, right: p.padRight, bottom: 0 } },
      plugins: {
        legend: { display: false },
        tooltip: { enabled: false },
        title: {
          display: true,
          text: p.title,
          fullSize: false,
          color: '#000',
          font: { size: 39, weight: 'normal', lineHeight: 1 },
          padding: { top: 8, bottom: 3.7 }
        },
        annotations: { arrows: p.arrows, labels: p.labels, xTitle: p.xTitle }
      },
      scales: {
        x: {
          type: 'linear',
          min: p.xMin,
          max: p.xMax,
          afterBuildTicks: (s) => { s.ticks = xTicks.map(v => ({ value: v })); },
          afterFit: (s) => { s.height = 79.7; },
          grid: { drawOnChartArea: false, drawTicks: true, tickLength: 6, tickColor: '#000', tickWidth: 1.3 },
          border: { display: true, color: '#000', width: 1.3 },
          ticks: { font: { size: 28 }, color: '#000', padding: 7, maxRotation: 0, autoSkip: false, callback: minusLabel }
        },
        y: {
          type: 'linear',
          min: p.yMin,
          max: p.yMax,
          afterBuildTicks: (s) => { s.ticks = p.yTicks.map(v => ({ value: v })); },
          afterFit: (s) => { s.width = p.yWidth; },
          grid: { drawOnChartArea: false, drawTicks: true, tickLength: 5, tickColor: '#000', tickWidth: 1.3 },
          border: { display: true, color: '#000', width: 1.3 },
          ticks: { font: { size: 28 }, color: '#000', padding: 9, autoSkip: false, callback: minusLabel },
          title: {
            display: !!p.yTitle,
            text: p.yTitle || '',
            color: '#000',
            font: { size: 28 },
            padding: { top: 10.7, bottom: 0 }
          }
        }
      }
    },
    plugins: [annotations]
  });
}

makePanel('upCanvas', {
  title: 'Upstream Boundary',
  groups: [upBandBottom, upBandTop, upColumn, upScatter, upBelow],
  boundary: upBoundary,
  gapTop: upGapTop,
  gapBottom: upGapBottom,
  arrows: upArrows,
  labels: upLabels,
  xMin: -349.5, xMax: 351,
  yMin: -20, yMax: 20,
  yTicks: upZTicks,
  yWidth: 122.3,
  yTitle: 'Z [cm]',
  padRight: 122.3,
  xTitle: { text: 'X [cm]', x: 859, y: 816.7 }
});

makePanel('downCanvas', {
  title: 'Downstream Boundary',
  groups: [downBandBottom, downBandTop, downColumn, downScatter, downAbove],
  boundary: downBoundary,
  gapTop: downGapTop,
  gapBottom: downGapBottom,
  arrows: downArrows,
  labels: downLabels,
  xMin: -353, xMax: 350.4,
  yMin: downBoundary - 20, yMax: downBoundary + 20,
  yTicks: downZTicks,
  yWidth: 90,
  padRight: 66.3
});
</script>
</body>
</html>
